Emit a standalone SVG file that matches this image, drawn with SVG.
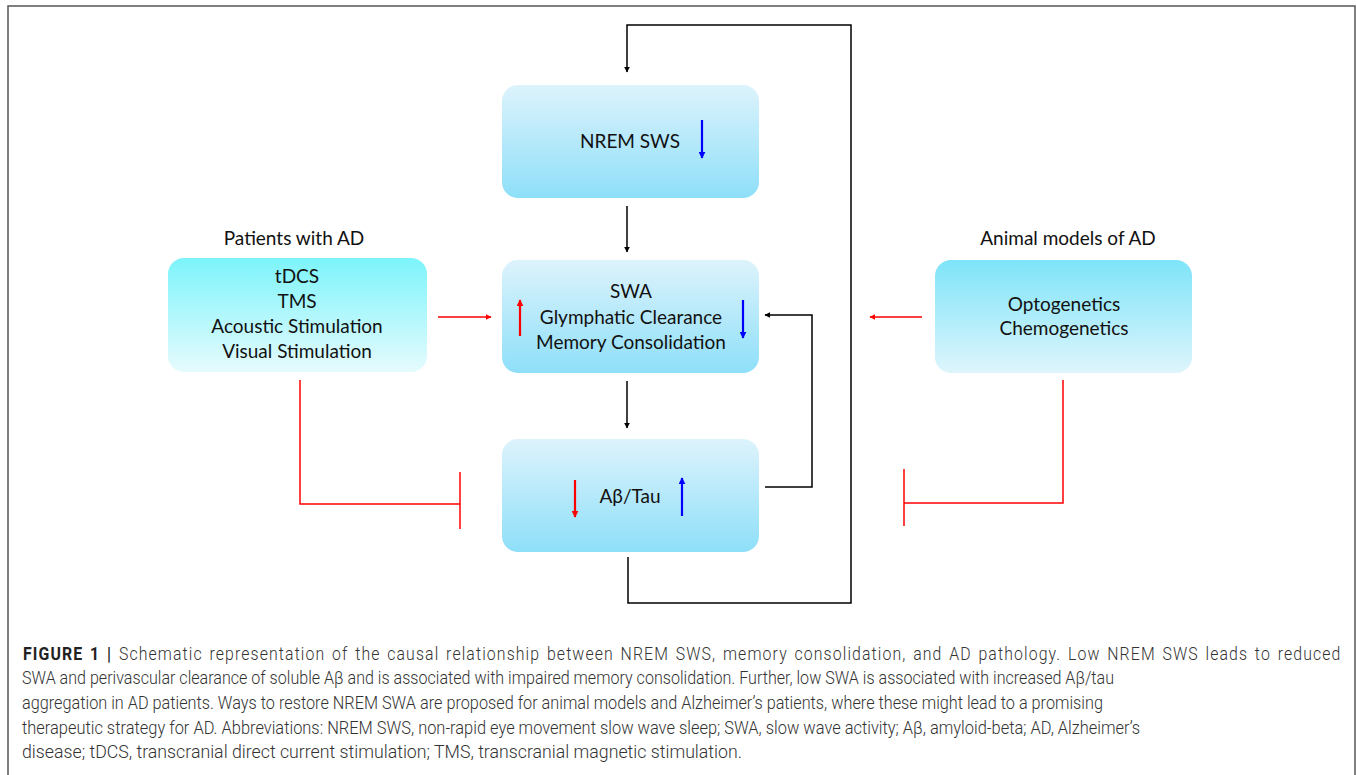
<svg xmlns="http://www.w3.org/2000/svg" width="1357" height="775" viewBox="0 0 1357 775">
<defs>
<linearGradient id="gBlue" x1="0" y1="0" x2="0" y2="1">
<stop offset="0" stop-color="#ddf3fc"/>
<stop offset="1" stop-color="#8edff9"/>
</linearGradient>
<linearGradient id="gCyanL" x1="0" y1="0" x2="0" y2="1">
<stop offset="0" stop-color="#7cf4fb"/>
<stop offset="1" stop-color="#e6fbfd"/>
</linearGradient>
<linearGradient id="gCyanR" x1="0" y1="0" x2="0" y2="1">
<stop offset="0" stop-color="#7ee4f9"/>
<stop offset="1" stop-color="#def5fc"/>
</linearGradient>
<marker id="ak" viewBox="0 0 10 10" refX="9" refY="5" markerWidth="6" markerHeight="6" orient="auto" markerUnits="userSpaceOnUse">
<path d="M0,0 L10,5 L0,10 z" fill="#000"/>
</marker>
<marker id="ar" viewBox="0 0 10 10" refX="9" refY="5" markerWidth="6" markerHeight="6" orient="auto" markerUnits="userSpaceOnUse">
<path d="M0,0 L10,5 L0,10 z" fill="#ff0000"/>
</marker>
<marker id="ab" viewBox="0 0 10 10" refX="9" refY="5" markerWidth="7" markerHeight="7" orient="auto" markerUnits="userSpaceOnUse">
<path d="M0,0 L10,5 L0,10 z" fill="#0000ff"/>
</marker>
<marker id="ar2" viewBox="0 0 10 10" refX="9" refY="5" markerWidth="7" markerHeight="7" orient="auto" markerUnits="userSpaceOnUse">
<path d="M0,0 L10,5 L0,10 z" fill="#ff0000"/>
</marker>
</defs>
<style>
.lbl{font-family:Lato,"Liberation Sans",sans-serif;font-size:19px;fill:#111;text-anchor:middle}
.cap{font-family:Roboto,"Liberation Sans",sans-serif;font-size:18px;font-weight:300;fill:#333}
.capb{font-weight:bold;fill:#222}
.k{fill:none;stroke:#000;stroke-width:1.5}
.r{fill:none;stroke:#ff0000;stroke-width:1.5}
.bl{fill:none;stroke:#0000ff;stroke-width:2.2}
.rd{fill:none;stroke:#ff0000;stroke-width:2.2}
</style>
<rect width="1357" height="775" fill="#fff"/>
<rect x="8" y="6" width="1347" height="775" fill="none" stroke="#555" stroke-width="1.5"/>

<g id="connectors">
<polyline class="k" points="628,557 628,603 851,603 851,25 627,25 627,72" marker-end="url(#ak)"/>
<line class="k" x1="627" y1="206" x2="627" y2="252" marker-end="url(#ak)"/>
<line class="k" x1="627" y1="381" x2="627" y2="428" marker-end="url(#ak)"/>
<polyline class="k" points="765,487 812,487 812,315 765,315" marker-end="url(#ak)"/>
<line class="r" x1="438" y1="317" x2="491" y2="317" marker-end="url(#ar)"/>
<line class="r" x1="922" y1="317" x2="870" y2="317" marker-end="url(#ar)"/>
<polyline class="r" points="300,380 300,504 460,504"/>
<line class="r" x1="460" y1="472" x2="460" y2="529"/>
<polyline class="r" points="1063,380 1063,503 904,503"/>
<line class="r" x1="904" y1="469" x2="904" y2="526"/>
</g>

<g id="node-nrem">
<rect x="502" y="85" width="257" height="113" rx="16" fill="url(#gBlue)"/>
<text class="lbl" x="630" y="148">NREM SWS</text>
<line class="bl" x1="702" y1="120" x2="702" y2="158" marker-end="url(#ab)"/>
</g>

<g id="node-swa">
<rect x="502" y="260" width="257" height="113" rx="16" fill="url(#gBlue)"/>
<text class="lbl" x="631" y="298">SWA</text>
<text class="lbl" x="631" y="324">Glymphatic Clearance</text>
<text class="lbl" x="631" y="349">Memory Consolidation</text>
<line class="rd" x1="520" y1="336" x2="520" y2="300" marker-end="url(#ar2)"/>
<line class="bl" x1="743" y1="300" x2="743" y2="338" marker-end="url(#ab)"/>
</g>

<g id="node-abeta">
<rect x="502" y="439" width="257" height="113" rx="16" fill="url(#gBlue)"/>
<text class="lbl" x="630" y="503">Aβ/Tau</text>
<line class="rd" x1="575" y1="480" x2="575" y2="517" marker-end="url(#ar2)"/>
<line class="bl" x1="682" y1="516" x2="682" y2="478" marker-end="url(#ab)"/>
</g>

<g id="node-patients">
<text class="lbl" x="294" y="245">Patients with AD</text>
<rect x="168" y="258" width="259" height="114" rx="16" fill="url(#gCyanL)"/>
<text class="lbl" x="297" y="283">tDCS</text>
<text class="lbl" x="297" y="308">TMS</text>
<text class="lbl" x="297" y="333">Acoustic Stimulation</text>
<text class="lbl" x="297" y="358">Visual Stimulation</text>
</g>

<g id="node-animal">
<text class="lbl" x="1068" y="245">Animal models of AD</text>
<rect x="935" y="260" width="257" height="113" rx="16" fill="url(#gCyanR)"/>
<text class="lbl" x="1064" y="311">Optogenetics</text>
<text class="lbl" x="1064" y="335">Chemogenetics</text>
</g>

<g id="caption">
<text class="cap" transform="translate(23 660) scale(0.88 1)" x="0" y="0" word-spacing="2" textLength="1497" lengthAdjust="spacing"><tspan class="capb">FIGURE 1 |</tspan> Schematic representation of the causal relationship between NREM SWS, memory consolidation, and AD pathology. Low NREM SWS leads to reduced</text>
<text class="cap" x="22" y="684" textLength="1092" lengthAdjust="spacingAndGlyphs">SWA and perivascular clearance of soluble Aβ and is associated with impaired memory consolidation. Further, low SWA is associated with increased Aβ/tau</text>
<text class="cap" x="22" y="709" textLength="1081" lengthAdjust="spacingAndGlyphs">aggregation in AD patients. Ways to restore NREM SWA are proposed for animal models and Alzheimer’s patients, where these might lead to a promising</text>
<text class="cap" x="22" y="734" textLength="1118" lengthAdjust="spacingAndGlyphs">therapeutic strategy for AD. Abbreviations: NREM SWS, non-rapid eye movement slow wave sleep; SWA, slow wave activity; Aβ, amyloid-beta; AD, Alzheimer’s</text>
<text class="cap" x="22" y="758" textLength="720" lengthAdjust="spacingAndGlyphs">disease; tDCS, transcranial direct current stimulation; TMS, transcranial magnetic stimulation.</text>
</g>
</svg>
